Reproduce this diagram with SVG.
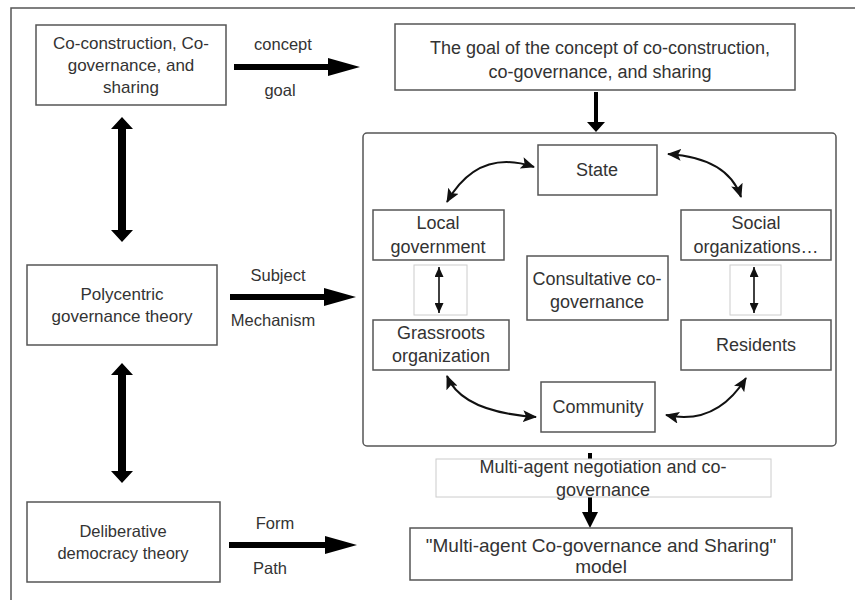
<svg xmlns="http://www.w3.org/2000/svg" width="855" height="600" viewBox="0 0 855 600">
<defs>
<style>
.box{fill:#fff;stroke:#555;stroke-width:1.5}
.lbox{fill:#fff;stroke:#ccc;stroke-width:1}
text{font-family:"Liberation Sans",Arial,sans-serif;fill:#333;text-anchor:middle;dominant-baseline:central}
.t16{font-size:16.5px}
.t17{font-size:17px}
.t18{font-size:18px}
.t19{font-size:19px}
.curve{fill:none;stroke:#111;stroke-width:2;marker-start:url(#ah);marker-end:url(#ah)}
.thin{fill:none;stroke:#111;stroke-width:1.6;marker-start:url(#sh);marker-end:url(#sh)}
.fat{fill:#000}
</style>
<marker id="ah" viewBox="0 0 14 12" refX="13" refY="6" markerWidth="14" markerHeight="12" markerUnits="userSpaceOnUse" orient="auto-start-reverse">
<path d="M0,0 L14,6 L0,12 L3,6 Z" fill="#111"/>
</marker>
<marker id="sh" viewBox="0 0 10 9" refX="10" refY="4.5" markerWidth="10" markerHeight="9" markerUnits="userSpaceOnUse" orient="auto-start-reverse">
<path d="M0,0 L10,4.5 L0,9 Z" fill="#111"/>
</marker>
</defs>
<rect width="855" height="600" fill="#fff"/>
<rect x="11" y="8" width="900" height="650" fill="none" stroke="#555" stroke-width="1.5"/>

<g id="container"><rect x="363" y="133" width="473" height="313" rx="4" class="box"/></g>

<g id="connectors">
<polygon class="fat" points="234,64 328,64 328,58 360,67 328,76 328,70 234,70"/>
<polygon class="fat" points="230,294 324,294 324,288 356,297 324,306 324,300 230,300"/>
<polygon class="fat" points="229,542 325,542 325,536 357,545 325,554 325,548 229,548"/>
<polygon class="fat" points="594,92 598,92 598,122 605,122 596,132 587,122 594,122"/>
<polygon class="fat" points="118,129 111,129 122,117 133,129 126,129 126,230 133,230 122,242 111,230 118,230"/>
<polygon class="fat" points="118,375 111,375 122,363 133,375 126,375 126,471 133,471 122,483 111,471 118,471"/>
<rect x="588" y="453" width="4" height="10" fill="#000"/>
<polygon class="fat" points="588,496 592,496 592,512 598,512 590,528 582,512 588,512"/>
<path class="curve" d="M447,202 Q478,148 534,167"/>
<path class="curve" d="M668,154 Q728,158 741,197"/>
<path class="curve" d="M447,376 Q462,412 536,417"/>
<path class="curve" d="M666,415 Q716,426 746,378"/>
</g>

<g id="n1"><rect x="36" y="25" width="190" height="80" class="box"/>
<text class="t17" x="131" y="43">Co-construction, Co-</text>
<text class="t17" x="131" y="65">governance, and</text>
<text class="t17" x="131" y="87">sharing</text></g>
<g id="lbl1"><text class="t16" x="283" y="44">concept</text><text class="t16" x="280" y="90">goal</text></g>
<g id="n2"><rect x="395" y="24" width="400" height="66" class="box"/>
<text class="t18" x="600" y="48">The goal of the concept of co-construction,</text>
<text class="t18" x="600" y="72">co-governance, and sharing</text></g>

<g id="n3"><rect x="27" y="265" width="190" height="80" class="box"/>
<text class="t17" x="122" y="294">Polycentric</text>
<text class="t17" x="122" y="316">governance theory</text></g>
<g id="lbl2"><text class="t16" x="278" y="275">Subject</text><text class="t16" x="273" y="320">Mechanism</text></g>

<g id="n4"><rect x="27" y="502" width="193" height="80" class="box"/>
<text class="t16" x="123" y="531">Deliberative</text>
<text class="t16" x="123" y="553">democracy theory</text></g>
<g id="lbl3"><text class="t16" x="275" y="523">Form</text><text class="t16" x="270" y="568">Path</text></g>

<g id="state"><rect x="538" y="145" width="119" height="50" class="box"/><text class="t18" x="597" y="170">State</text></g>
<g id="local"><rect x="373" y="210" width="131" height="50" class="box"/>
<text class="t18" x="438" y="223">Local</text><text class="t18" x="438" y="247">government</text></g>
<g id="social"><rect x="681" y="210" width="150" height="50" class="box"/>
<text class="t18" x="756" y="223">Social</text><text class="t18" x="756" y="247">organizations…</text></g>
<g id="consult"><rect x="527" y="256" width="141" height="64" class="box"/>
<text class="t18" x="597" y="279">Consultative co-</text><text class="t18" x="597" y="302">governance</text></g>
<g id="grass"><rect x="373" y="320" width="136" height="50" class="box"/>
<text class="t18" x="441" y="333">Grassroots</text><text class="t18" x="441" y="356">organization</text></g>
<g id="resid"><rect x="681" y="320" width="150" height="50" class="box"/>
<text class="t18" x="756" y="345">Residents</text></g>
<g id="comm"><rect x="541" y="382" width="114" height="50" class="box"/>
<text class="t18" x="598" y="407">Community</text></g>

<g id="link1"><rect x="414" y="265" width="53" height="50" class="lbox"/><path class="thin" d="M439,267 L439,313"/></g>
<g id="link2"><rect x="730" y="265" width="51" height="50" class="lbox"/><path class="thin" d="M754,267 L754,313"/></g>

<g id="neg"><rect x="436" y="459" width="335" height="38" class="lbox"/>
<text class="t18" x="603" y="467">Multi-agent negotiation and co-</text>
<text class="t18" x="603" y="490">governance</text></g>

<g id="model"><rect x="410" y="528" width="382" height="52" class="box"/>
<text class="t19" x="601" y="545">"Multi-agent Co-governance and Sharing"</text>
<text class="t19" x="601" y="566">model</text></g>
</svg>
